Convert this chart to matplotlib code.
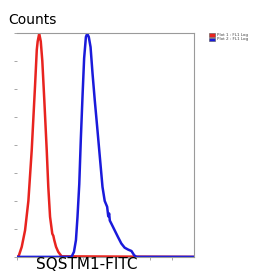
import numpy as np
import matplotlib.pyplot as plt
from matplotlib.patches import Rectangle

# histogram outlines (x in decades 0..8, y in counts scale 0..8)
red_x = [0.0, 0.06, 0.21, 0.36, 0.51, 0.66, 0.81, 0.89, 0.93, 1.0, 1.07, 1.14, 1.23,
         1.34, 1.41, 1.49, 1.59, 1.64, 1.68, 1.76, 1.86, 2.01, 8.0]
red_y = [0.0, 0.0, 0.36, 0.95, 2.0, 3.8, 6.1, 7.4, 7.7, 7.98, 7.7, 7.0, 5.6,
         3.8, 2.5, 1.43, 0.83, 0.75, 0.6, 0.36, 0.18, 0.02, 0.0]

blue_x = [0.0, 2.46, 2.57, 2.66, 2.73, 2.81, 2.88, 2.96, 3.03, 3.11, 3.17, 3.24, 3.32,
          3.41, 3.51, 3.62, 3.74, 3.86, 3.96, 4.07, 4.12, 4.16, 4.19, 4.26, 4.41,
          4.56, 4.71, 4.86, 5.02, 5.17, 5.29, 5.39, 8.0]
blue_y = [0.0, 0.0, 0.18, 0.6, 1.43, 2.6, 4.2, 5.8, 7.1, 7.86, 7.98, 7.86, 7.5,
          6.55, 5.6, 4.64, 3.57, 2.5, 2.0, 1.79, 1.45, 1.55, 1.3, 1.19, 0.95,
          0.71, 0.48, 0.33, 0.26, 0.21, 0.06, 0.0, 0.0]

legend_labels = ['Plot 1 : FL1 Log', 'Plot 2 : FL1 Log']
colors = ['#e8231f', '#1a1adb']

fig = plt.figure(figsize=(2.63, 2.73), dpi=100)
ax = fig.add_axes([0.065, 0.059, 0.673, 0.82])

ax.plot(red_x, red_y, color=colors[0], lw=1.8)
ax.plot(blue_x, blue_y, color=colors[1], lw=1.8)

ax.set_xlim(0, 8)
ax.set_ylim(0, 8)
ax.set_xticks(range(0, 8))
ax.set_yticks(range(0, 9))
ax.set_xticklabels([])
ax.set_yticklabels([])
ax.tick_params(axis='both', direction='out', length=2, width=0.6, color='#999999')

ax.spines['left'].set_visible(False)
for s in ['top', 'right', 'bottom']:
    ax.spines[s].set_color('#9a9a9a')
    ax.spines[s].set_linewidth(0.8)

fig.text(0.03, 0.925, 'Counts', fontsize=10, ha='left', va='center')
fig.text(0.33, 0.004, 'SQSTM1-FITC', fontsize=11, ha='center', va='bottom')

# small legend at the top right
for i, (lab, c) in enumerate(zip(legend_labels, colors)):
    y0 = 0.865 - i * 0.016
    fig.patches.append(Rectangle((0.795, y0), 0.022, 0.013, transform=fig.transFigure,
                                 facecolor=c, edgecolor='#555555', lw=0.4))
    fig.text(0.825, y0 + 0.0065, lab, fontsize=3, ha='left', va='center', color='#444444')

fig.savefig('out.png', dpi=100)
